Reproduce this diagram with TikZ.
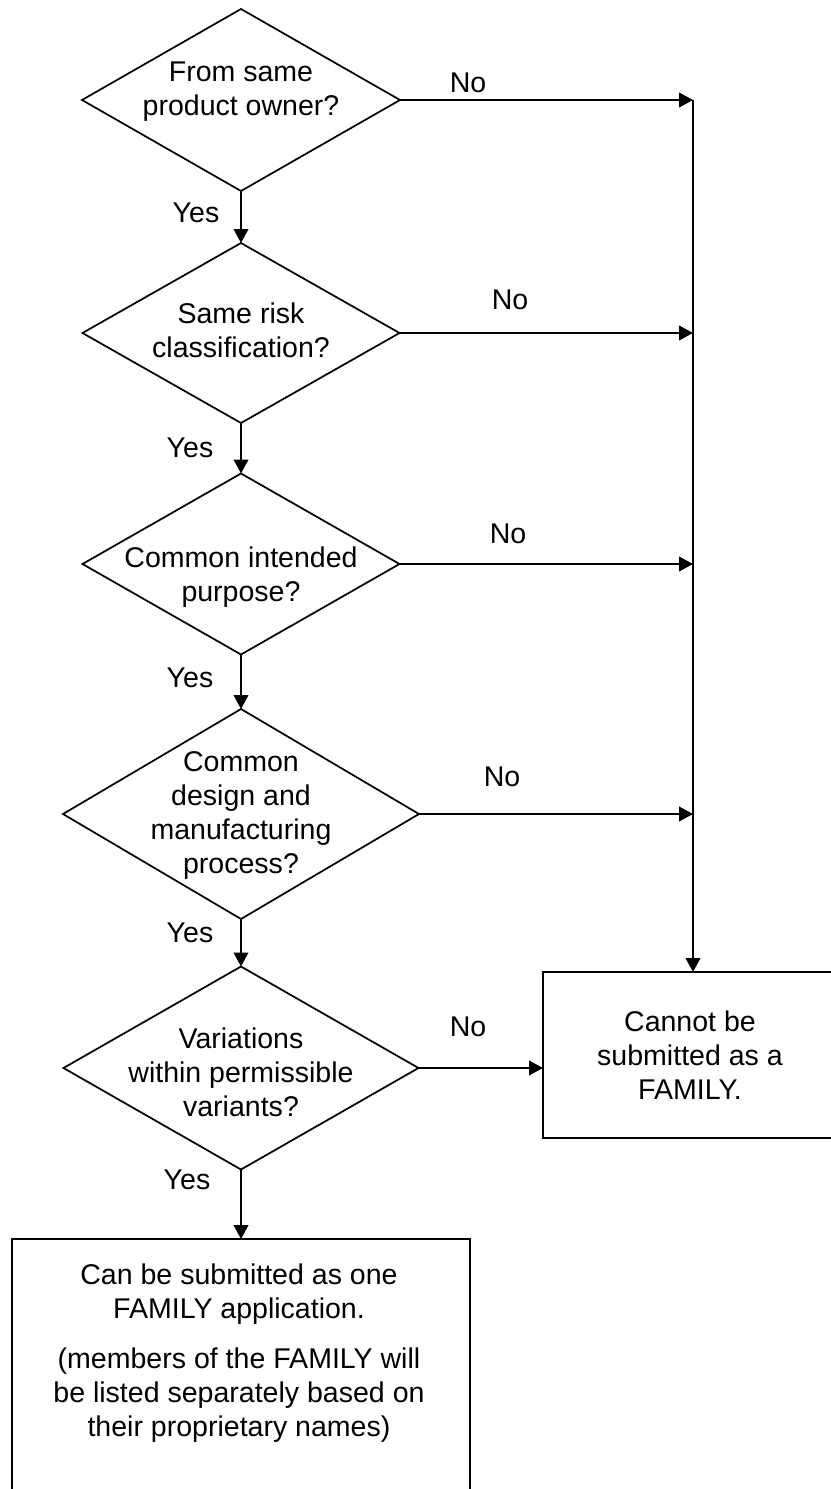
\documentclass[tikz,border=0pt]{standalone}
\usepackage{fontspec}
\setmainfont{Liberation Sans}
\usetikzlibrary{shapes.geometric,arrows.meta}
\begin{document}
\begin{tikzpicture}[x=0.75pt,y=-0.75pt,
  every node/.style={font=\fontsize{21.4}{25.5}\selectfont, inner sep=0pt, outer sep=0pt},
  dia/.style 2 args={draw, line width=1.3pt, diamond, minimum width=#1*0.75pt, minimum height=#2*0.75pt},
  txt/.style={align=center},
  boxn/.style 2 args={draw, line width=1.3pt, rectangle, minimum width=#1*0.75pt, minimum height=#2*0.75pt},
  arr/.style={line width=1.4pt, -{Triangle[length=10.5pt,width=11pt]}},
  ln/.style={line width=1.4pt}]
\useasboundingbox (0,0) rectangle (831,1489);
\clip (0,0) rectangle (831,1489);

% diamonds
\node[dia={318}{182}] (d1) at (241,100) {};
\node[txt] (t1) at (241,92) {From same\\product owner?};
\node[dia={317}{180}] (d2) at (241,333) {};
\node[txt] (t2) at (241,330) {Same risk\\classification?};
\node[dia={317}{181}] (d3) at (241,564) {};
\node[txt] (t3) at (241,577) {Common intended\\purpose?};
\node[dia={356}{210}] (d4) at (241,814) {};
\node[txt] (t4) at (241,815) {Common\\design and\\manufacturing\\process?};
\node[dia={355}{203}] (d5) at (241,1068) {};
\node[txt] (t5) at (241,1072) {Variations\\within permissible\\variants?};

% boxes
\node[boxn={294}{166}, txt] (cb) at (690,1055) {Cannot be\\submitted as a\\FAMILY.};
\node[boxn={458}{330}] (ob) at (241,1404) {};
\node[txt] (ot) at (239,1353) {Can be submitted as one\\FAMILY application.\\[12pt](members of the FAMILY will\\be listed separately based on\\their proprietary names)};

% right vertical line position
\coordinate (vl) at (693,0);
\coordinate (j1) at (d1.east -| vl);
\coordinate (j2) at (d2.east -| vl);
\coordinate (j3) at (d3.east -| vl);
\coordinate (j4) at (d4.east -| vl);

% No connectors
\draw[arr] (d1.east) -- (j1);
\draw[arr] (d2.east) -- (j2);
\draw[arr] (d3.east) -- (j3);
\draw[arr] (d4.east) -- (j4);
\draw[arr] (j1) -- (j1 |- cb.north);
\draw[arr] (d5.east) -- (d5.east -| cb.west);

% Yes connectors
\draw[arr] (d1.south) -- (d2.north);
\draw[arr] (d2.south) -- (d3.north);
\draw[arr] (d3.south) -- (d4.north);
\draw[arr] (d4.south) -- (d5.north);
\draw[arr] (d5.south) -- (d5.south |- ob.north);

% labels
\node (n1) at (468,83) {No};
\node (n2) at (510,300) {No};
\node (n3) at (508,534) {No};
\node (n4) at (502,777) {No};
\node (n5) at (468,1027) {No};
\node (y1) at (196,213) {Yes};
\node (y2) at (190,448) {Yes};
\node (y3) at (190,678) {Yes};
\node (y4) at (190,933) {Yes};
\node (y5) at (187,1180) {Yes};
\end{tikzpicture}
\end{document}
